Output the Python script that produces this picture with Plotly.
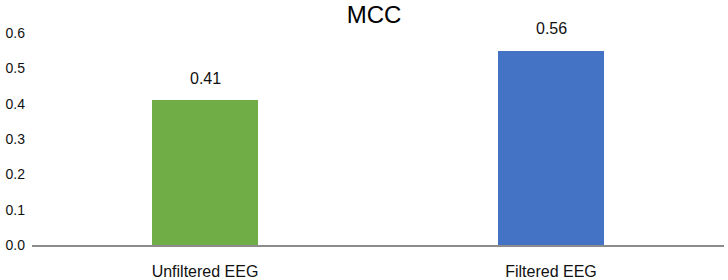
import plotly.graph_objects as go

categories = ["Unfiltered EEG", "Filtered EEG"]
values = [0.41, 0.55]
value_labels = ["0.41", "0.56"]
colors = ["#70AD47", "#4472C4"]
y_ticks = [0.0, 0.1, 0.2, 0.3, 0.4, 0.5, 0.6]
y_tick_text = ["0.0", "0.1", "0.2", "0.3", "0.4", "0.5", "0.6"]
title_text = "MCC"

FONT = "Liberation Sans, Arial, sans-serif"

fig = go.Figure()
fig.add_trace(go.Bar(
    x=categories, y=values, marker=dict(color=colors, line=dict(width=0)),
    width=0.305, showlegend=False, hoverinfo="skip",
))

for c, v, t in zip(categories, values, value_labels):
    fig.add_annotation(x=c, y=v, text=t, showarrow=False, yanchor="middle",
                       yshift=22, font=dict(family=FONT, size=16, color="#111"))

fig.update_layout(
    width=728, height=280,
    margin=dict(l=32, r=4, t=33, b=35, autoexpand=False),
    paper_bgcolor="white", plot_bgcolor="white",
    font=dict(family=FONT),
    bargap=0,
    title=dict(text=title_text, x=374 / 728, xref="container", xanchor="center",
               y=1 - 15 / 280, yref="container", yanchor="middle",
               font=dict(family=FONT, size=24, color="#000")),
)
fig.update_xaxes(
    range=[-0.5, 1.5], showgrid=False, zeroline=False, automargin=False,
    showline=True, linecolor="#8c8c8c", linewidth=1.5,
    ticks="", tickfont=dict(family=FONT, size=16, color="#111"),
    ticklabelstandoff=11,
)
fig.update_yaxes(
    range=[0, 0.6], showgrid=False, zeroline=False, showline=False, automargin=False,
    tickvals=y_ticks, ticktext=y_tick_text,
    tickfont=dict(family=FONT, size=14, color="#111"),
    ticklabelstandoff=6,
)

fig.write_html("out.html", config={"displayModeBar": False},
               post_script="document.body.style.margin='0';document.body.style.overflow='hidden';")
